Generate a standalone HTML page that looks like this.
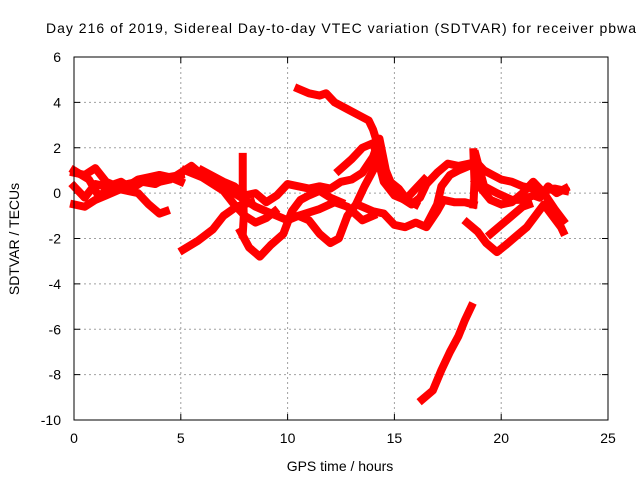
<!DOCTYPE html>
<html><head><meta charset="utf-8"><style>
body{margin:0;background:#fff}
text{font-family:"Liberation Sans",sans-serif;font-size:14px;fill:#000}
</style></head><body>
<svg id="c" width="640" height="480">
<rect width="640" height="480" fill="#fff"/>
<text x="341" y="33" text-anchor="middle" textLength="590">Day 216 of 2019, Sidereal Day-to-day VTEC variation (SDTVAR) for receiver pbwa</text>
<text x="340" y="471" text-anchor="middle">GPS time / hours</text>
<text transform="translate(19,239) rotate(-90)" text-anchor="middle">SDTVAR / TECUs</text>
<g id="grid"></g><g id="ticks"></g><g id="series"></g>
<rect x="74" y="57" width="534" height="363" fill="none" stroke="#000" stroke-width="1"/>
</svg>
<script>
const xTicks=[0,5,10,15,20,25];
const yTicks=[6,4,2,0,-2,-4,-6,-8,-10];
const trackA=[[0,0.9],[0.5,0.8],[1,1.1],[1.5,0.5],[2,0.3],[2.5,0.4],[3,0.5],[3.5,0.6],[4,0.5],[4.5,0.6],[5,0.9],[5.5,1.2],[6,0.8],[6.5,0.5],[7,0.3],[7.5,0],[8,-0.3],[8.5,-0.6],[9,-0.8],[9.5,-1.0],[10,-1.2],[10.5,-1.0],[11,-1.2],[11.5,-1.8],[12,-2.2],[12.4,-2.0],[12.8,-1.0],[13.2,-0.5],[13.6,0.3],[14,1.0],[14.2,1.3]];
const trackB=[[0,-0.5],[0.5,-0.6],[1,-0.3],[1.5,-0.1],[2,0.1],[2.5,0.3],[3,0.6],[3.5,0.7],[4,0.8],[4.5,0.7],[5,0.5]];
const trackC=[[0,0.3],[0.5,-0.2],[1,0.4],[1.5,0.3],[2,0.2],[2.5,0.1],[3,0],[3.5,-0.5],[4,-0.9],[4.3,-0.8]];
const trackD=[[0,1.0],[0.7,0.6],[1.2,-0.2],[1.6,0.3],[2.2,0.5],[2.7,0.2],[3.2,0.5],[3.8,0.4],[4.4,0.7],[5,0.8]];
const trackE=[[5.2,1.0],[6,0.7],[7,0.1],[7.5,-0.5],[8,-1.0],[8.5,-1.3],[9,-1.1],[9.4,-0.8]];
const trackF=[[7.8,-1.7],[8.2,-2.4],[8.7,-2.8],[9.2,-2.3],[9.8,-1.8],[10.2,-0.8],[10.6,-0.3],[11,-0.1],[11.5,0.1],[12,-0.2],[12.5,-0.4]];
const trackG=[[6,1.0],[7,0.5],[7.5,0.3],[8,-0.1],[8.5,0],[9,-0.4],[9.5,-0.1],[10,0.4],[10.5,0.3],[11,0.2],[11.5,0.3],[12,0.2],[12.5,0.5],[13,0.6],[13.5,0.9],[14,1.6],[14.3,2.4],[14.6,1.0],[14.9,0.3],[15.3,-0.2],[15.8,-0.5],[16.2,-0.2],[16.5,0.4],[17,0.9],[17.5,1.3],[18,1.2],[18.5,1.3]];
const trackH=[[12.4,1.0],[13,1.5],[13.5,2.0],[14,2.2],[14.2,1.6],[14.5,0.5],[15,-0.1],[15.5,-0.3],[16,0.2],[16.4,0.6]];
const trackI=[[10.5,-1.0],[11.5,-0.7],[12.2,-0.4],[12.8,-0.6],[13.5,-1.2],[14,-1.0]];
const trackJ=[[13.5,-0.6],[14,-0.8],[14.5,-0.9],[15,-1.4],[15.5,-1.5],[16,-1.3],[16.5,-1.5],[17,-0.8],[17.3,-0.3],[17.8,-0.4],[18.3,-0.4],[18.7,-0.5]];
const trackK=[[16.5,-1.4],[17,-0.5],[17.2,0.3],[17.6,0.8],[18,1.0],[18.5,1.2],[18.8,1.4],[19.2,1.0],[19.6,0.8],[20,0.6],[20.5,0.5],[21,0.3],[21.5,0.2],[22,0.1],[22.5,0.2],[23,0.1]];
const trackL=[[18.8,1.7],[19.2,0.3],[19.8,0],[20.5,-0.3],[21,-0.3],[21.5,-0.1],[21.8,-0.2],[22.2,0.3],[22.6,0],[23,0.2]];
const trackM=[[18.8,0.5],[19.5,-0.3],[20,-0.5],[20.5,-0.4],[21,0],[21.5,0.5],[22,0],[22.5,-0.7],[22.9,-1.2]];
const trackN=[[18.4,-1.3],[18.9,-1.7],[19.3,-2.2],[19.8,-2.6],[20.2,-2.3],[20.7,-1.9],[21.2,-1.5],[21.6,-1.0],[22,-0.5],[22.4,-1.0],[22.8,-1.5],[22.9,-1.7]];
const trackO=[[19.5,-1.8],[20,-1.4],[20.5,-1.0],[21,-0.6],[21.3,-0.5]];
const trackP=[[7.9,1.6],[7.9,0.2],[7.95,-1.0],[7.9,-1.8]];
const trackQ=[[18.7,1.8],[18.75,0.5],[18.7,-0.5]];
const trackT=[[10.5,4.6],[11,4.4],[11.5,4.3],[11.8,4.4],[12.2,4.0],[12.8,3.7],[13.4,3.4],[13.8,3.2],[14,2.8],[14.2,2.2],[14.5,1.0],[14.8,0.5],[15.2,0.2],[15.6,-0.3],[16,-0.5]];
const trackS=[[5.1,-2.5],[5.8,-2.1],[6.5,-1.6],[7,-1.0],[7.6,-0.6],[8.3,-0.4]];
const trackR=[[16.3,-9.1],[16.8,-8.7],[17.2,-7.8],[17.6,-7.0],[18,-6.3],[18.3,-5.6],[18.6,-5.0]];
const tracks=[trackA,trackB,trackC,trackD,trackE,trackF,trackG,trackH,trackI,trackJ,trackK,trackL,trackM,trackN,trackO,trackP,trackQ,trackT,trackS,trackR];
const X0=74,X1=608,Y0=420,Y1=57;
const sx=v=>X0+(v-0)/(25-0)*(X1-X0);
const sy=v=>Y0-(v+10)/16*(Y0-Y1);
const NS='http://www.w3.org/2000/svg';
function mk(t,a,p){const e=document.createElementNS(NS,t);for(const k in a)e.setAttribute(k,a[k]);p.appendChild(e);return e;}
const grid=document.getElementById('grid'),ticks=document.getElementById('ticks'),ser=document.getElementById('series');
xTicks.forEach(v=>{const x=sx(v);
 if(v>0&&v<25){const l=mk('line',{x1:x,x2:x,y1:Y1,y2:Y0,stroke:'#a0a0a0','stroke-dasharray':'2,3'},grid);
 
 }
 mk('line',{x1:x,x2:x,y1:Y0,y2:Y0-6,stroke:'#000'},ticks);
 mk('line',{x1:x,x2:x,y1:Y1,y2:Y1+6,stroke:'#000'},ticks);
 const t=mk('text',{x:x,y:443,'text-anchor':'middle'},ticks);t.textContent=v;
 
 });
yTicks.forEach(v=>{const y=sy(v);
 if(v>-10&&v<6){const l=mk('line',{x1:X0,x2:X1,y1:y,y2:y,stroke:'#a0a0a0','stroke-dasharray':'2,3'},grid);
 
 }
 mk('line',{x1:X0,x2:X0+6,y1:y,y2:y,stroke:'#000'},ticks);
 mk('line',{x1:X1,x2:X1-6,y1:y,y2:y,stroke:'#000'},ticks);
 const t=mk('text',{x:61,y:y+5,'text-anchor':'end'},ticks);t.textContent=v;
 
 });
tracks.forEach((tr,i)=>{
 const p=mk('polyline',{points:tr.map(d=>sx(d[0])+','+sy(d[1])).join(' '),fill:'none',stroke:'#ff0000','stroke-width':8,'stroke-linejoin':'round','stroke-linecap':'square'},ser);
 
 
});
</script>
</body></html>
